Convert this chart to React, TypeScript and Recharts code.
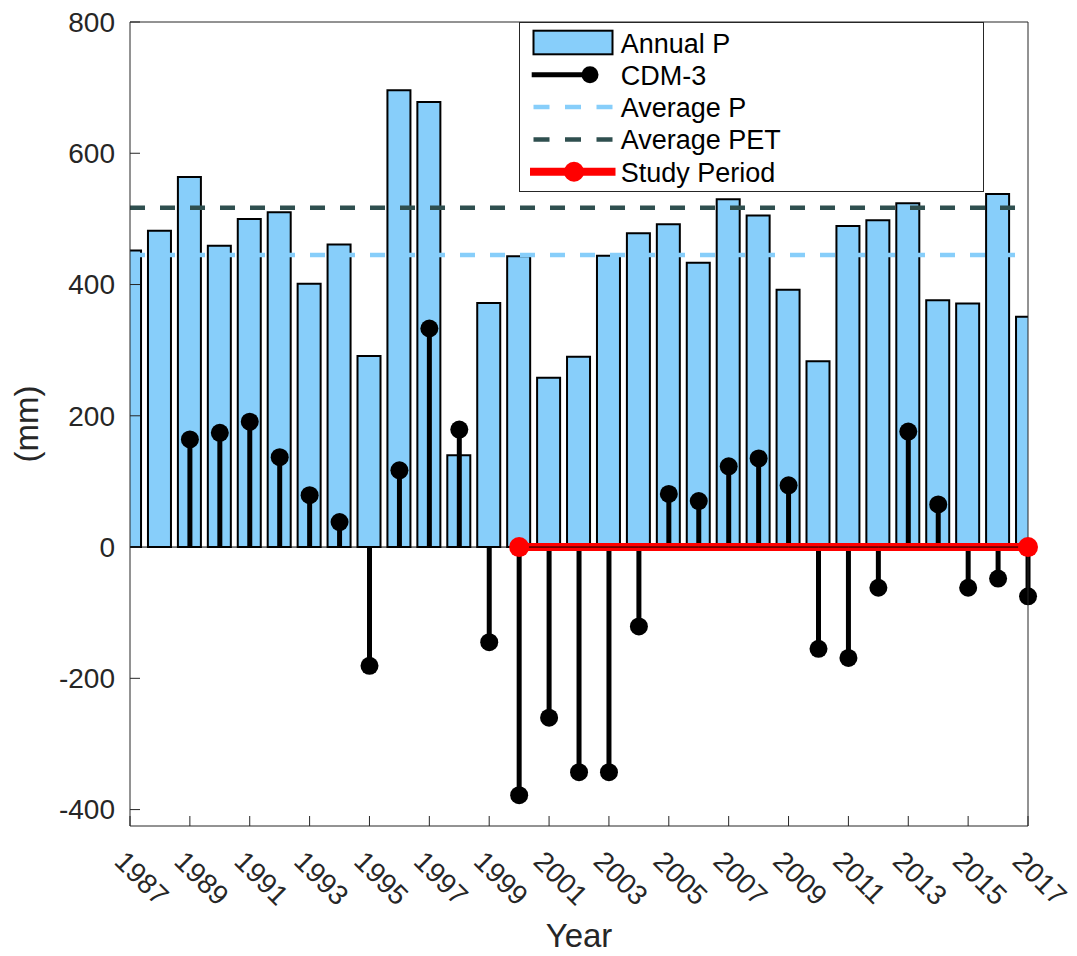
import React from 'react';
import { ComposedChart, Bar, Line, XAxis, YAxis, Legend } from 'recharts';

const FONT = '"Liberation Sans", Arial, Helvetica, sans-serif';
const AXIS_COLOR = '#262626';
const BAR_FILL = '#87CEFA';
const PET_COLOR = '#2F4F4F';
const STUDY_COLOR = '#FF0000';

const years = [
  1987, 1988, 1989, 1990, 1991, 1992, 1993, 1994, 1995, 1996, 1997, 1998, 1999, 2000, 2001, 2002,
  2003, 2004, 2005, 2006, 2007, 2008, 2009, 2010, 2011, 2012, 2013, 2014, 2015, 2016, 2017,
];
// annual precipitation (mm)
const annualP = [
  452, 482, 564, 459, 500, 510, 401, 461, 291, 696, 678, 140, 372, 443, 258, 290,
  444, 478, 492, 433, 530, 505, 392, 283, 489, 498, 524, 376, 371, 538, 351,
];
// 3-year cumulative departure from mean, starts in 1989
const cdm3 = [
  null, null, 164, 174, 191, 137, 79, 38, -181, 117, 333, 179, -145, -378, -260, -343,
  -343, -121, 81, 70, 123, 135, 94, -155, -169, -62, 176, 65, -62, -48, -75,
];
const averageP = 445;
const averagePET = 517;
const studyStart = 2000;
const studyEnd = 2017;

const yearTicks = [1987, 1989, 1991, 1993, 1995, 1997, 1999, 2001, 2003, 2005, 2007, 2009, 2011, 2013, 2015, 2017];
const mmTicks = [-400, -200, 0, 200, 400, 600, 800];
const legendNames = ['Annual P', 'CDM-3', 'Average P', 'Average PET', 'Study Period'];

const rows = years.map((year, i) => ({
  year,
  p: annualP[i],
  cdm: cdm3[i],
  avgP: averageP,
  avgPET: averagePET,
  study: year >= studyStart && year <= studyEnd ? 0 : null,
  base: 0,
}));

// stem: line from zero to the value with a filled marker at the tip
const StemShape = (props: any) => {
  const { x, y, width, height, payload } = props;
  if (payload == null || payload.cdm == null || !Number.isFinite(y)) return <g />;
  const cx = x + width / 2;
  const top = Math.min(y, y + height);
  const bottom = Math.max(y, y + height);
  const tip = payload.cdm >= 0 ? top : bottom;
  const root = payload.cdm >= 0 ? bottom : top;
  return (
    <g>
      <line x1={cx} x2={cx} y1={root} y2={tip} stroke="#000" strokeWidth={5} />
      <circle cx={cx} cy={tip} r={9} fill="#000" />
    </g>
  );
};

const StudyDot = (props: any) => {
  const { cx, cy, payload } = props;
  const key = `study-dot-${payload?.year}`;
  if (!payload || (payload.year !== studyStart && payload.year !== studyEnd) || cy == null) return <g key={key} />;
  return <circle key={key} cx={cx} cy={cy} r={10} fill={STUDY_COLOR} />;
};

const YearTick = (props: any) => {
  const { x, y, payload } = props;
  const x0 = x - 17;
  return (
    <text x={x0} y={y} transform={`rotate(45, ${x0}, ${y})`} fontSize={28} fill={AXIS_COLOR} fontFamily={FONT}>
      {payload.value}
    </text>
  );
};

const MmTick = (props: any) => {
  const { x, y, payload } = props;
  return (
    <text x={x} y={y} dy="0.35em" textAnchor="end" fontSize={28} fill={AXIS_COLOR} fontFamily={FONT}>
      {payload.value}
    </text>
  );
};

const XTitle = (props: any) => {
  const { viewBox } = props;
  return (
    <text x={viewBox.x + viewBox.width / 2} y={viewBox.y + 121} textAnchor="middle" fontSize={33} fill={AXIS_COLOR} fontFamily={FONT}>
      Year
    </text>
  );
};

const YTitle = (props: any) => {
  const { viewBox } = props;
  const cx = viewBox.x - 32;
  const cy = viewBox.y + viewBox.height / 2;
  return (
    <text x={cx} y={cy} transform={`rotate(-90, ${cx}, ${cy})`} textAnchor="middle" fontSize={33} fill={AXIS_COLOR} fontFamily={FONT}>
      (mm)
    </text>
  );
};

const LegendIcon = ({ index, cy }: { index: number; cy: number }) => {
  switch (index) {
    case 0:
      return <rect x={13.5} y={cy - 11.8} width={79} height={23.6} fill={BAR_FILL} stroke="#000" strokeWidth={2} />;
    case 1:
      return (
        <g>
          <line x1={11.7} x2={70} y1={cy} y2={cy} stroke="#000" strokeWidth={5} />
          <circle cx={70} cy={cy} r={8.5} fill="#000" />
        </g>
      );
    case 2:
    case 3:
      return (
        <line x1={13.5} x2={92.5} y1={cy} y2={cy} stroke={index === 2 ? BAR_FILL : PET_COLOR} strokeWidth={4.5} strokeDasharray="16 15.5" />
      );
    default:
      return (
        <g>
          <line x1={10} x2={95.5} y1={cy} y2={cy} stroke={STUDY_COLOR} strokeWidth={8} />
          <circle cx={54} cy={cy} r={10} fill={STUDY_COLOR} />
        </g>
      );
  }
};

const LegendBox = () => (
  <div style={{ width: 465, height: 170, boxSizing: 'border-box', border: `1px solid ${AXIS_COLOR}`, background: '#fff' }}>
    <svg width={463} height={168} style={{ display: 'block' }}>
      {legendNames.map((name, i) => {
        const cy = 19.5 + i * 32.3;
        return (
          <g key={name}>
            <LegendIcon index={i} cy={cy} />
            <text x={100.7} y={cy + 10} fontSize={27} fill="#000" fontFamily={FONT}>
              {name}
            </text>
          </g>
        );
      })}
    </svg>
  </div>
);

export default function App() {
  return (
    <div style={{ position: 'absolute', left: 0, top: 0, width: 1077, height: 956, background: '#fff' }}>
      <ComposedChart width={1077} height={956} data={rows} margin={{ top: 22, right: 49, bottom: 90, left: 70 }}>
        <XAxis
          dataKey="year"
          type="number"
          domain={[1987, 2017]}
          ticks={yearTicks}
          interval={0}
          allowDataOverflow
          height={40}
          tickSize={-10}
          tickMargin={47}
          tick={<YearTick />}
          axisLine={{ stroke: AXIS_COLOR }}
          tickLine={{ stroke: AXIS_COLOR }}
          label={<XTitle />}
        />
        <XAxis
          xAxisId="top"
          orientation="top"
          mirror
          dataKey="year"
          type="number"
          domain={[1987, 2017]}
          ticks={yearTicks}
          interval={0}
          tick={false}
          tickSize={10}
          axisLine={{ stroke: AXIS_COLOR }}
          tickLine={{ stroke: AXIS_COLOR }}
        />
        <YAxis
          type="number"
          domain={[-425, 800]}
          ticks={mmTicks}
          interval={0}
          width={60}
          tickSize={-10}
          tickMargin={25}
          tick={<MmTick />}
          axisLine={{ stroke: AXIS_COLOR }}
          tickLine={{ stroke: AXIS_COLOR }}
          label={<YTitle />}
        />
        <YAxis
          yAxisId="right"
          orientation="right"
          mirror
          type="number"
          domain={[-425, 800]}
          ticks={mmTicks}
          interval={0}
          allowDataOverflow
          tick={false}
          tickSize={10}
          axisLine={{ stroke: AXIS_COLOR }}
          tickLine={{ stroke: AXIS_COLOR }}
        />

        <Bar dataKey="p" barSize={23} fill={BAR_FILL} stroke="#000" strokeWidth={2} isAnimationActive={false} />
        <Line dataKey="avgP" stroke={BAR_FILL} strokeWidth={4.5} strokeDasharray="15 15" dot={false} activeDot={false} isAnimationActive={false} />
        <Line dataKey="avgPET" stroke={PET_COLOR} strokeWidth={4.5} strokeDasharray="15 15" dot={false} activeDot={false} isAnimationActive={false} />
        <Bar xAxisId="top" dataKey="cdm" barSize={10} shape={<StemShape />} isAnimationActive={false} />
        <Line xAxisId="top" dataKey="study" stroke={STUDY_COLOR} strokeWidth={8} dot={<StudyDot />} activeDot={false} isAnimationActive={false} />
        <Line xAxisId="top" dataKey="base" stroke="#000" strokeWidth={1} dot={false} activeDot={false} isAnimationActive={false} />

        <Legend
          layout="vertical"
          align="center"
          verticalAlign="middle"
          wrapperStyle={{ left: 519, top: 22, width: 465, height: 170 }}
          content={() => <LegendBox />}
        />
      </ComposedChart>
    </div>
  );
}
